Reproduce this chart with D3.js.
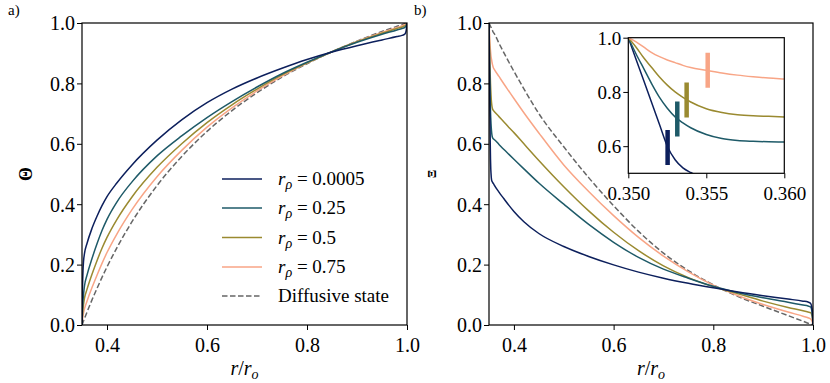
<!DOCTYPE html>
<html>
<head>
<meta charset="utf-8">
<script src="https://cdn.jsdelivr.net/npm/d3@7"></script>
<style>
  body { margin: 0; background: #fff; }
  svg text { font-family: "Liberation Serif", "Times New Roman", serif; fill: #000; }
  svg text.sym { font-weight: bold; }
</style>
</head>
<body>
<svg id="chart" width="830" height="383"></svg>
<script>
// ---- data ----
const seriesLabels = ["0.0005", "0.25", "0.5", "0.75"];
const seriesColors = ["#0c1f5c", "#1e5a68", "#9a8a30", "#f8a586"];

// panel a) : Theta
const rTheta = [0.35, 0.351, 0.352, 0.353, 0.355, 0.36, 0.37, 0.38, 0.39, 0.4, 0.42, 0.45, 0.5, 0.55,
                0.6, 0.65, 0.7, 0.75, 0.8, 0.85, 0.9, 0.95, 0.98, 0.99, 0.995, 0.998, 1.0];
const theta0005 = [0, 0.12, 0.18, 0.21, 0.237, 0.27, 0.32, 0.36, 0.395, 0.425, 0.471, 0.53, 0.612, 0.68,
                   0.736, 0.781, 0.818, 0.85, 0.879, 0.904, 0.925, 0.944, 0.955, 0.959, 0.962, 0.972, 1.0];
const theta025  = [0, 0.05, 0.08, 0.10, 0.13, 0.165, 0.22, 0.269, 0.313, 0.35, 0.408, 0.474, 0.56, 0.627,
                   0.687, 0.74, 0.788, 0.832, 0.87, 0.905, 0.936, 0.963, 0.977, 0.982, 0.985, 0.99, 1.0];
const theta05   = [0, 0.033, 0.053, 0.067, 0.089, 0.118, 0.168, 0.213, 0.254, 0.29, 0.35, 0.424, 0.522, 0.601,
                   0.67, 0.729, 0.781, 0.828, 0.868, 0.905, 0.938, 0.966, 0.982, 0.987, 0.99, 0.993, 1.0];
const theta075  = [0, 0.018, 0.03, 0.039, 0.054, 0.079, 0.124, 0.165, 0.204, 0.24, 0.302, 0.382, 0.491, 0.579,
                   0.655, 0.719, 0.775, 0.824, 0.867, 0.905, 0.939, 0.969, 0.985, 0.991, 0.994, 0.996, 1.0];
const thetaDiff = [0, 0.0044, 0.0087, 0.013, 0.0216, 0.0427, 0.0831, 0.121, 0.1577, 0.1923, 0.2564, 0.342, 0.4615, 0.559,
                   0.641, 0.71, 0.769, 0.821, 0.865, 0.905, 0.94, 0.972, 0.989, 0.9945, 0.9973, 0.9989, 1.0];

// panel b) : Xi
const rXi = [0.35, 0.3505, 0.351, 0.3515, 0.352, 0.3525, 0.353, 0.3535, 0.354, 0.355, 0.356, 0.357, 0.358, 0.359,
             0.36, 0.37, 0.38, 0.39, 0.4, 0.42, 0.45, 0.5, 0.55, 0.6, 0.65, 0.7, 0.75, 0.8, 0.85, 0.9, 0.95,
             0.98, 0.99, 0.995, 0.997, 0.999, 1.0];
const xi0005 = [1.0, 0.92, 0.84, 0.76, 0.68, 0.60, 0.55, 0.52, 0.503, 0.482, 0.476, 0.473, 0.47, 0.468,
                0.465, 0.44, 0.418, 0.396, 0.376, 0.342, 0.303, 0.26, 0.227, 0.199, 0.175, 0.155, 0.138, 0.123, 0.109, 0.097, 0.086,
                0.079, 0.076, 0.072, 0.063, 0.035, 0];
const xi025  = [1.0, 0.94, 0.885, 0.83, 0.78, 0.74, 0.708, 0.686, 0.668, 0.643, 0.628, 0.621, 0.618, 0.616,
                0.615, 0.598, 0.581, 0.565, 0.549, 0.517, 0.47, 0.40, 0.333, 0.274, 0.224, 0.185, 0.155, 0.128, 0.107, 0.09, 0.075,
                0.066, 0.063, 0.06, 0.053, 0.03, 0];
const xi05   = [1.0, 0.965, 0.925, 0.89, 0.855, 0.825, 0.80, 0.78, 0.763, 0.738, 0.724, 0.716, 0.712, 0.71,
                0.708, 0.69, 0.672, 0.654, 0.637, 0.6, 0.545, 0.458, 0.378, 0.307, 0.246, 0.196, 0.157, 0.127, 0.103, 0.079, 0.058,
                0.047, 0.043, 0.041, 0.036, 0.02, 0];
const xi075  = [1.0, 0.985, 0.965, 0.945, 0.93, 0.918, 0.908, 0.898, 0.89, 0.88, 0.87, 0.862, 0.856, 0.851,
                0.848, 0.823, 0.798, 0.774, 0.75, 0.703, 0.636, 0.53, 0.442, 0.362, 0.29, 0.228, 0.176, 0.132, 0.097, 0.068, 0.043,
                0.029, 0.024, 0.02, 0.016, 0.008, 0];
const xiDiff = [1.0, 0.998, 0.996, 0.995, 0.993, 0.991, 0.989, 0.987, 0.986, 0.982, 0.978, 0.975, 0.971, 0.968,
                0.966, 0.933, 0.901, 0.87, 0.84, 0.782, 0.70, 0.59, 0.488, 0.395, 0.31, 0.238, 0.18, 0.133, 0.094, 0.062, 0.031,
                0.0125, 0.006, 0.003, 0.002, 0.001, 0];

// inset markers (position on each curve)
const markR  = [0.35252, 0.35314, 0.35374, 0.35509];
const markXi = [0.595, 0.70, 0.77, 0.88];

const mainTicks   = [0.4, 0.6, 0.8, 1.0];
const yTicks      = [0.0, 0.2, 0.4, 0.6, 0.8, 1.0];
const insetXTicks = [0.350, 0.355, 0.360];
const insetYTicks = [0.6, 0.8, 1.0];

// ---- drawing ----
const svg = d3.select("#chart");

const thetaSeries = [theta0005, theta025, theta05, theta075];
const xiSeries    = [xi0005, xi025, xi05, xi075];

function panel(x0, x1, xDom, yDom, xTickVals, yTickVals, fmtX, fmtY, fs, y0 = 325, y1 = 23) {
  const x = d3.scaleLinear().domain(xDom).range([x0, x1]);
  const y = d3.scaleLinear().domain(yDom).range([y0, y1]);
  const g = svg.append("g");
  const ax = g.append("g").attr("transform", `translate(0,${y0})`)
    .call(d3.axisBottom(x).tickValues(xTickVals).tickFormat(fmtX).tickSize(5).tickSizeOuter(0));
  const ay = g.append("g").attr("transform", `translate(${x0},0)`)
    .call(d3.axisLeft(y).tickValues(yTickVals).tickFormat(fmtY).tickSize(5).tickSizeOuter(0));
  [ax, ay].forEach(a => {
    a.attr("font-family", null);
    a.select(".domain").remove();
    a.selectAll("line").attr("stroke", "#000").attr("stroke-width", 1);
    a.selectAll("text").attr("font-size", fs);
  });
  ax.selectAll("text").attr("dy", null).attr("y", 27);
  ay.selectAll("text").attr("x", -7).attr("dy", "0.34em");
  return { x, y, g };
}

const fmt1 = d3.format(".1f");
const fmt3 = d3.format(".3f");
const defs = svg.append("defs");

function drawLines(g, xs, sc, list, colors) {
  const line = d3.line().x((d, i) => sc.x(xs[i])).y(d => sc.y(d)).curve(d3.curveMonotoneX);
  list.forEach((s, i) => {
    g.append("path").datum(s).attr("d", line).attr("fill", "none")
      .attr("stroke", colors[i]).attr("stroke-width", 1.5);
  });
  return line;
}

function dashed(g, xs, sc, s) {
  const line = d3.line().x((d, i) => sc.x(xs[i])).y(d => sc.y(d)).curve(d3.curveMonotoneX);
  g.append("path").datum(s).attr("d", line).attr("fill", "none")
    .attr("stroke", "#666").attr("stroke-width", 1.5).attr("stroke-dasharray", "5.5,2.5");
}

// panel a
const A = panel(82, 407, [0.35, 1.0], [0, 1], mainTicks, yTicks, fmt1, fmt1, 20);
defs.append("clipPath").attr("id", "clipA")
  .append("rect").attr("x", 82).attr("y", 23).attr("width", 325).attr("height", 302);
const gA = A.g.append("g").attr("clip-path", "url(#clipA)");
dashed(gA, rTheta, A, thetaDiff);
drawLines(gA, rTheta, A, thetaSeries.slice().reverse(), seriesColors.slice().reverse());
A.g.append("rect").attr("x", 82).attr("y", 23).attr("width", 325).attr("height", 302)
  .attr("fill", "none").attr("stroke", "#000").attr("stroke-width", 1.2);

// panel b
const B = panel(489, 813, [0.35, 1.0], [0, 1], mainTicks, yTicks, fmt1, fmt1, 20);
defs.append("clipPath").attr("id", "clipB")
  .append("rect").attr("x", 489).attr("y", 23).attr("width", 324).attr("height", 302);
const gB = B.g.append("g").attr("clip-path", "url(#clipB)");
dashed(gB, rXi, B, xiDiff);
drawLines(gB, rXi, B, xiSeries.slice().reverse(), seriesColors.slice().reverse());
B.g.append("rect").attr("x", 489).attr("y", 23).attr("width", 324).attr("height", 302)
  .attr("fill", "none").attr("stroke", "#000").attr("stroke-width", 1.2);

// inset
const iL = 628.3, iR = 784.3, iT = 37.7, iB = 173.3;
svg.append("rect").attr("x", iL).attr("y", iT).attr("width", iR - iL).attr("height", iB - iT)
  .attr("fill", "#fff");
const I = panel(iL, iR, [0.350, 0.360], [0.5, 1.0], insetXTicks, insetYTicks, fmt3, fmt1, 19, iB, iT);
defs.append("clipPath").attr("id", "clipI")
  .append("rect").attr("x", iL).attr("y", iT).attr("width", iR - iL).attr("height", iB - iT);
const gI = I.g.append("g").attr("clip-path", "url(#clipI)");
drawLines(gI, rXi, I, xiSeries, seriesColors);
markR.forEach((r, i) => {
  gI.append("line").attr("x1", I.x(r)).attr("x2", I.x(r))
    .attr("y1", I.y(markXi[i]) - 17.5).attr("y2", I.y(markXi[i]) + 17.5)
    .attr("stroke", seriesColors[i]).attr("stroke-width", 4.5);
});
I.g.append("rect").attr("x", iL).attr("y", iT).attr("width", iR - iL).attr("height", iB - iT)
  .attr("fill", "none").attr("stroke", "#000").attr("stroke-width", 1.2);

// legend
const leg = svg.append("g");
const legY = [179, 208, 237.5, 267, 296];
seriesLabels.forEach((lab, i) => {
  leg.append("line").attr("x1", 222).attr("x2", 262).attr("y1", legY[i]).attr("y2", legY[i])
    .attr("stroke", seriesColors[i]).attr("stroke-width", 1.5);
  const t = leg.append("text").attr("x", 278).attr("y", legY[i] + 6).attr("font-size", 19);
  t.append("tspan").attr("font-style", "italic").text("r");
  t.append("tspan").attr("font-style", "italic").attr("font-size", 14).attr("dy", 4).text("ρ");
  t.append("tspan").attr("dy", -4).text(" = " + lab);
});
leg.append("line").attr("x1", 222).attr("x2", 262).attr("y1", legY[4]).attr("y2", legY[4])
  .attr("stroke", "#666").attr("stroke-width", 1.5).attr("stroke-dasharray", "5.5,2.5");
leg.append("text").attr("x", 278).attr("y", legY[4] + 6).attr("font-size", 19).text("Diffusive state");

// axis labels
function xLabel(cx) {
  const t = svg.append("text").attr("x", cx).attr("y", 375).attr("text-anchor", "middle").attr("font-size", 20);
  t.append("tspan").attr("font-style", "italic").text("r");
  t.append("tspan").text("/");
  t.append("tspan").attr("font-style", "italic").text("r");
  t.append("tspan").attr("font-style", "italic").attr("font-size", 14).attr("dy", 4).text("o");
}
xLabel(244.5);
xLabel(651);

svg.append("text").attr("class", "sym").attr("transform", "translate(32,174) rotate(-90)")
  .attr("text-anchor", "middle").attr("font-size", 18).text("Θ");
svg.append("text").attr("class", "sym").attr("transform", "translate(436,174) rotate(-90)")
  .attr("text-anchor", "middle").attr("font-size", 12).text("Ξ");

svg.append("text").attr("x", 8).attr("y", 15).attr("font-size", 15).text("a)");
svg.append("text").attr("x", 414).attr("y", 15).attr("font-size", 15).text("b)");
</script>
</body>
</html>
